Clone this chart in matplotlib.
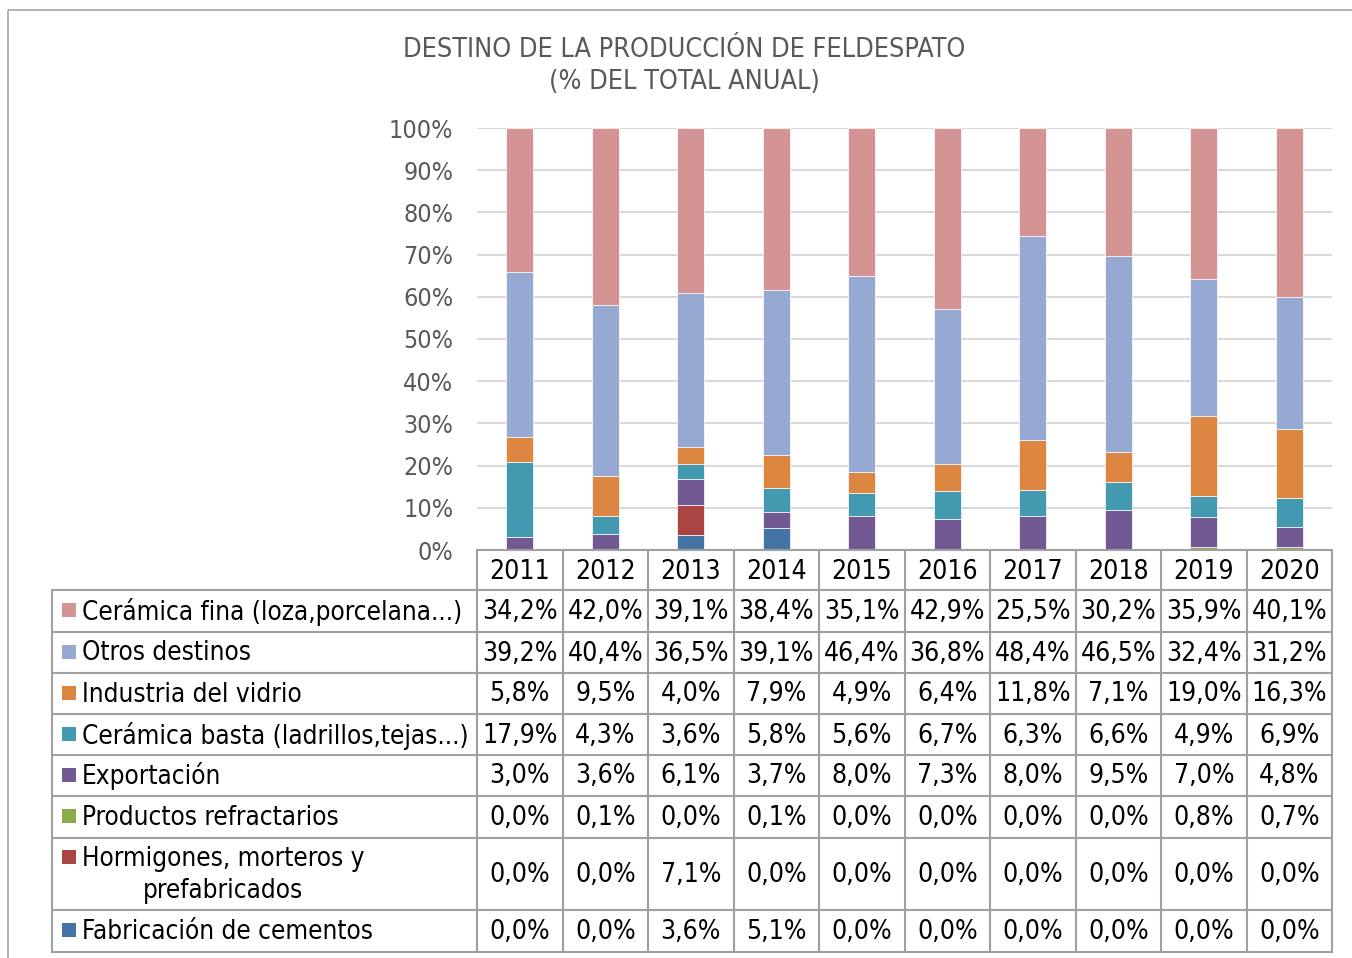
import matplotlib
matplotlib.use("Agg")
import matplotlib.pyplot as plt
import numpy as np
from matplotlib.patches import Rectangle

years = ["2011", "2012", "2013", "2014", "2015", "2016", "2017", "2018", "2019", "2020"]

# series, bottom to top of the stack
cementos = [0.0, 0.0, 3.6, 5.1, 0.0, 0.0, 0.0, 0.0, 0.0, 0.0]
hormigones = [0.0, 0.0, 7.1, 0.0, 0.0, 0.0, 0.0, 0.0, 0.0, 0.0]
refractarios = [0.0, 0.1, 0.0, 0.1, 0.0, 0.0, 0.0, 0.0, 0.8, 0.7]
exportacion = [3.0, 3.6, 6.1, 3.7, 8.0, 7.3, 8.0, 9.5, 7.0, 4.8]
ceramica_basta = [17.9, 4.3, 3.6, 5.8, 5.6, 6.7, 6.3, 6.6, 4.9, 6.9]
vidrio = [5.8, 9.5, 4.0, 7.9, 4.9, 6.4, 11.8, 7.1, 19.0, 16.3]
otros = [39.2, 40.4, 36.5, 39.1, 46.4, 36.8, 48.4, 46.5, 32.4, 31.2]
ceramica_fina = [34.2, 42.0, 39.1, 38.4, 35.1, 42.9, 25.5, 30.2, 35.9, 40.1]

series_names = [
    "Fabricación de cementos",
    "Hormigones, morteros y\nprefabricados",
    "Productos refractarios",
    "Exportación",
    "Cerámica basta (ladrillos,tejas...)",
    "Industria del vidrio",
    "Otros destinos",
    "Cerámica fina (loza,porcelana...)",
]
series_values = [cementos, hormigones, refractarios, exportacion,
                 ceramica_basta, vidrio, otros, ceramica_fina]
colors = ["#4473A6", "#A94644", "#8DA84D", "#735994",
          "#4299B0", "#DD8642", "#95A9D3", "#D49494"]

W, H = 1352, 958
fig = plt.figure(figsize=(W / 100, H / 100), dpi=100)

FONT = dict(family=["DejaVu Sans"], fontstretch="condensed")

# plot area in pixels
L, R, T, B = 477, 1332, 128, 550
ax = fig.add_axes([L / W, 1 - B / H, (R - L) / W, (B - T) / H])
data = np.array(series_values, dtype=float)
totals = data.sum(axis=0)
pct = data / totals * 100
x = np.arange(len(years))
bottom = np.zeros(len(years))
for vals, c in zip(pct, colors):
    ax.bar(x, vals, bottom=bottom, width=0.32, color=c, edgecolor="white",
           linewidth=0.5, zorder=3)
    bottom += vals
ax.set_xlim(-0.5, len(years) - 0.5)
ax.set_ylim(0, 100)
ax.set_yticks(np.arange(0, 101, 10))
ax.set_yticklabels([f"{v}%" for v in range(0, 101, 10)])
ax.grid(axis="y", color="#D9D9D9", linewidth=1.5, zorder=0)
ax.tick_params(axis="y", length=0, pad=17, labelsize=18, labelcolor="#595959")
ax.tick_params(axis="x", length=0, labelbottom=False)
for lab in ax.get_yticklabels():
    lab.set_fontfamily("DejaVu Sans")
    lab.set_fontstretch("condensed")
for s in ax.spines.values():
    s.set_visible(False)

# overlay in pixel coordinates for table and frame
ov = fig.add_axes([0, 0, 1, 1], zorder=5)
ov.set_xlim(0, W)
ov.set_ylim(H, 0)
ov.axis("off")
ov.patch.set_alpha(0)

# outer frame
ov.add_patch(Rectangle((8, 10), W + 20, H + 20, fill=False, edgecolor="#A6A6A6", linewidth=1.2))

# title
ov.text(684, 50, "DESTINO DE LA PRODUCCIÓN DE FELDESPATO",
        ha="center", va="center", fontsize=19.4, color="#595959", **FONT)
ov.text(684, 82, "(% DEL TOTAL ANUAL)", ha="center", va="center",
        fontsize=19.4, color="#595959", **FONT)

# table geometry
colw = (R - L) / len(years)
label_left = 52
row_edges = [590, 632, 673, 714, 755, 796, 838, 910, 952]
header_top = B
lc = "#A0A0A0"
lw = 1.5

# header row (years)
ov.plot([L, R], [header_top, header_top], color=lc, lw=lw)
for i in range(len(years) + 1):
    xx = L + i * colw
    ov.plot([xx, xx], [header_top, row_edges[-1]], color=lc, lw=lw)
for i, yr in enumerate(years):
    ov.text(L + (i + 0.5) * colw, (header_top + row_edges[0]) / 2 + 2, yr,
            ha="center", va="center", fontsize=19, color="black", **FONT)

# horizontal lines of body
for y in row_edges:
    ov.plot([label_left, R], [y, y], color=lc, lw=lw)
ov.plot([label_left, label_left], [row_edges[0], row_edges[-1]], color=lc, lw=lw)

# body rows: top-to-bottom order is reverse of stacking
order = list(range(len(series_names)))[::-1]
for r, si in enumerate(order):
    y0, y1 = row_edges[r], row_edges[r + 1]
    yc = (y0 + y1) / 2
    name = series_names[si]
    if "\n" in name:
        first_line_y = y0 + 20
        ov.add_patch(Rectangle((62, first_line_y - 8), 14, 14, color=colors[si], lw=0))
        ov.text(82, y0 + 8, name, ha="left", va="top", multialignment="center",
                fontsize=18.7, color="black", linespacing=1.3, **FONT)
    else:
        ov.add_patch(Rectangle((62, yc - 8), 14, 14, color=colors[si], lw=0))
        ov.text(82, yc + 1, name, ha="left", va="center", fontsize=18.7,
                color="black", **FONT)
    for i, v in enumerate(series_values[si]):
        ov.text(L + (i + 0.5) * colw, yc + 1, f"{v:.1f}%".replace(".", ","),
                ha="center", va="center", fontsize=19, color="black", **FONT)

fig.savefig("out.png", dpi=100)
